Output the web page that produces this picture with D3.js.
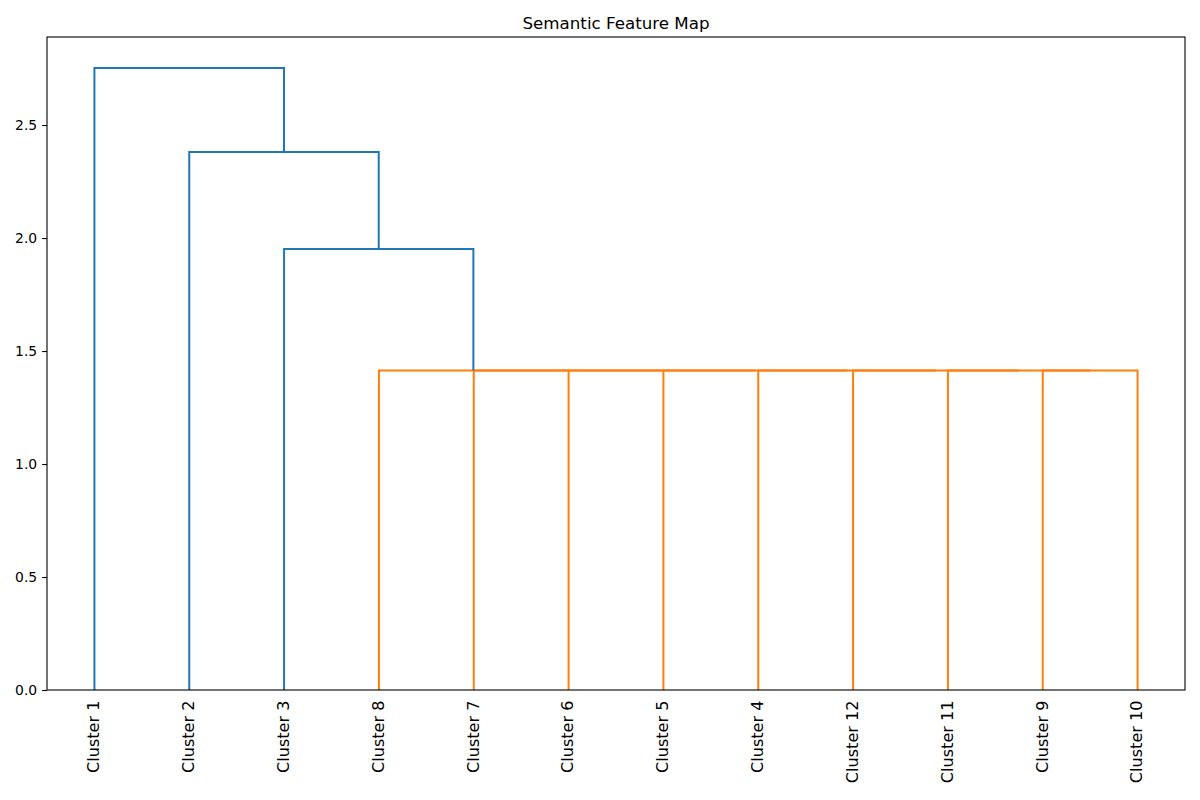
<!DOCTYPE html>
<html>
<head>
<meta charset="utf-8">
<script src="https://cdn.jsdelivr.net/npm/d3@7"></script>
<style>
  body { margin: 0; background: #fff; }
  text { font-family: "DejaVu Sans", sans-serif; fill: #000; }
</style>
</head>
<body>
<svg id="chart" width="1200" height="800"></svg>
<script>
// ---- data ----
const leafLabels = ["Cluster 1","Cluster 2","Cluster 3","Cluster 4","Cluster 5","Cluster 6",
                    "Cluster 7","Cluster 8","Cluster 9","Cluster 10","Cluster 11","Cluster 12"];
// scipy-style linkage rows: left id, right id, height
const mergeLeft   = [8, 10, 11, 3, 4, 5, 6, 7, 2, 1, 0];
const mergeRight  = [9, 12, 13, 14, 15, 16, 17, 18, 19, 20, 21];
const mergeHeight = [1.414, 1.414, 1.414, 1.414, 1.414, 1.414, 1.414, 1.414, 1.951, 2.381, 2.752];
const yTicks = [0.0, 0.5, 1.0, 1.5, 2.0, 2.5];
const title = "Semantic Feature Map";

// ---- layout ----
const svg = d3.select("#chart");
const L = 47, R = 1185, T = 37, B = 690;
const n = leafLabels.length;
const root = n + mergeHeight.length - 1;

// leaf order via traversal
const order = [];
function walk(id) {
  if (id < n) { order.push(id); return; }
  const k = id - n;
  walk(mergeLeft[k]); walk(mergeRight[k]);
}
walk(root);

const maxH = d3.max(mergeHeight);
const x = d3.scaleLinear().domain([0, n * 10]).range([L, R]);
const y = d3.scaleLinear().domain([0, maxH * 1.05]).range([B, T]);

const pos = {}, hgt = {};
order.forEach((id, i) => { pos[id] = 5 + 10 * i; hgt[id] = 0; });
const threshold = 0.7 * maxH;
const links = [];
mergeHeight.forEach((h, k) => {
  const a = mergeLeft[k], b = mergeRight[k];
  const id = n + k;
  pos[id] = (pos[a] + pos[b]) / 2; hgt[id] = h;
  links.push({xs: [pos[a], pos[a], pos[b], pos[b]], ys: [hgt[a], h, h, hgt[b]],
              color: h < threshold ? "#ff7f0e" : "#1f77b4"});
});

const line = d3.line().x(d => x(d[0])).y(d => y(d[1]));
svg.append("g").selectAll("path").data(links).join("path")
  .attr("d", d => line(d.xs.map((v, i) => [v, d.ys[i]])))
  .attr("fill", "none").attr("stroke", d => d.color).attr("stroke-width", 2);

// frame
svg.append("rect").attr("x", L).attr("y", T).attr("width", R - L).attr("height", B - T)
  .attr("fill", "none").attr("stroke", "#000").attr("stroke-width", 1.1);

// y axis
const yAxis = d3.axisLeft(y).tickValues(yTicks).tickFormat(d3.format(".1f")).tickSize(4.9).tickPadding(4.9);
const gy = svg.append("g").attr("transform", `translate(${L},0)`).call(yAxis);
gy.select(".domain").remove();
gy.selectAll("line").attr("stroke-width", 1.1);
gy.selectAll("text").style("font-size", "13.9px").style("font-family", "DejaVu Sans, sans-serif");

// x labels
svg.append("g").selectAll("text").data(order).join("text")
  .attr("transform", (d, i) => `translate(${x(5 + 10 * i)},${B + 10.5}) rotate(-90)`)
  .attr("text-anchor", "end").attr("dy", "0.3em")
  .style("font-size", "16.1px")
  .text(d => leafLabels[d]);

// title
svg.append("text").attr("x", (L + R) / 2).attr("y", T - 8.3).attr("text-anchor", "middle")
  .style("font-size", "16.7px").text(title);
</script>
</body>
</html>
